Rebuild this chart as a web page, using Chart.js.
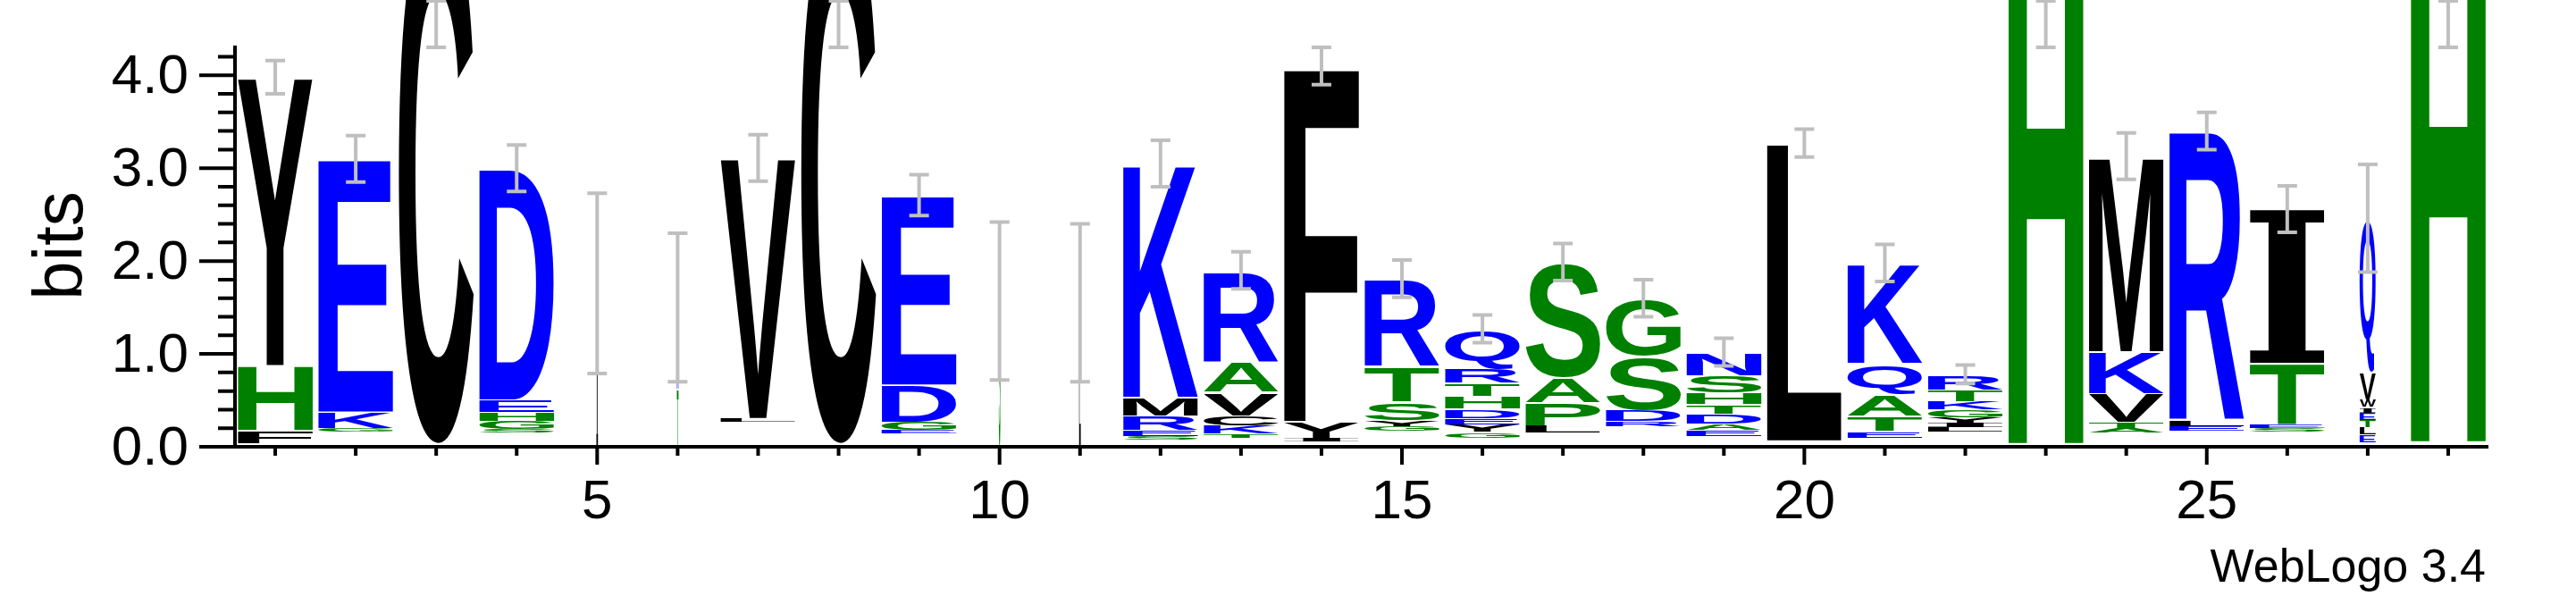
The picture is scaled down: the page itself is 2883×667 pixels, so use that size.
<!DOCTYPE html>
<html><head><meta charset="utf-8">
<script src="https://cdn.jsdelivr.net/npm/chart.js@4.4.0/dist/chart.umd.min.js"></script>
<style>html,body{margin:0;padding:0;background:#fff}#c{display:block}</style>
</head><body>
<canvas id="c" width="2883" height="667"></canvas>
<script>
const positions = [1,2,3,4,5,6,7,8,9,10,11,12,13,14,15,16,17,18,19,20,21,22,23,24,25,26,27,28];
const letters = [
 [' ','F','H','Y'], [' ','G','K','E'], [' ','C'], [' ','S','G','H','E','D'], ['I'], ['T','N'],
 [' ','L','V'], [' ','C'], [' ','E','G','D','E'], ['S'], ['L'],
 [' ','S','E','R','M','K'], [' ','T','K','C','V','A','R'], [' ','I','Y','F'],
 [' ','G','Y','S','T','R'], [' ','G','Y','E','D','H','T','R','Q'], [' ','L','P','A','S'],
 [' ','R','D','S','G'], [' ','E','A','D','T','H','S','N'], [' ','L'],
 [' ','E','T','A','Q','K'], [' ','L','I','Y','G','K','T','R'], [' ','H'],
 [' ','A','T','V','K','M'], [' ','E','L','R'], [' ','S','E','T','I'],
 [' ','E','L','T','E','I','W','V','Q'], [' ','H']
];
const heights = [
 [0.04,0.14,0.7,3.1], [0.16,0.04,0.18,2.72], [0.04,5.8], [0.15,0.04,0.09,0.1,0.13,2.49], [1.76], [0.63,0.87],
 [0.27,0.04,2.8], [0.04,5.8], [0.14,0.04,0.09,0.4,2.04], [1.57], [1.55],
 [0.08,0.04,0.06,0.16,0.2,2.51], [0.1,0.04,0.09,0.11,0.25,0.33,0.98], [0.06,0.04,0.18,3.82],
 [0.17,0.05,0.07,0.2,0.38,0.94], [0.1,0.06,0.08,0.07,0.1,0.14,0.14,0.16,0.42], [0.15,0.08,0.25,0.27,1.24],
 [0.22,0.06,0.12,0.58,0.62], [0.12,0.06,0.07,0.11,0.1,0.12,0.19,0.25], [0.07,3.2],
 [0.1,0.07,0.17,0.23,0.33,1.08], [0.16,0.05,0.05,0.06,0.08,0.09,0.12,0.17], [0.04,5.7],
 [0.15,0.05,0.07,0.31,0.45,2.1], [0.17,0.05,0.06,3.12], [0.16,0.04,0.04,0.66,1.66],
 [0.05,0.08,0.08,0.08,0.08,0.06,0.08,0.3,1.65], [0.06,5.7]
];
const columnWidths = [0.93,0.93,0.93,0.93,0.02,0.02,0.93,0.93,0.93,0.02,0.02,0.93,0.93,0.93,0.93,0.93,0.93,0.93,0.93,0.93,0.93,0.93,0.93,0.93,0.93,0.93,0.2,0.93];
const errHalf = [0.18,0.25,0.25,0.25,0.97,0.8,0.25,0.25,0.22,0.85,0.85,0.25,0.2,0.2,0.2,0.15,0.2,0.2,0.15,0.15,0.2,0.1,0.25,0.25,0.2,0.25,0.58,0.25];
const yTickLabels = ['0.0','1.0','2.0','3.0','4.0'];
const xTickLabels = ['5','10','15','20','25'];

const green = ['A','G','H','P','S','T'], blue = ['D','E','K','N','Q','R'];
function colorOf(l){ return green.includes(l) ? '#008000' : blue.includes(l) ? '#0000ff' : '#000000'; }
const tops = heights.map(h => h.reduce((a,b)=>a+b,0));
const errCenter = tops.map(t => Math.min(t, 4.55));

const logoPlugin = {
  id:'logo',
  afterDatasetsDraw(chart){
    const ctx = chart.ctx, xs = chart.scales.x, ys = chart.scales.y;
    ctx.save();
    positions.forEach((p,i)=>{
      const w = columnWidths[i];
      const x0 = xs.getPixelForValue(p - w/2), x1 = xs.getPixelForValue(p + w/2);
      let base = 0;
      letters[i].forEach((l,j)=>{
        const h = heights[i][j];
        const yb = ys.getPixelForValue(base), yt = ys.getPixelForValue(base+h);
        base += h;
        if (l === ' ') return;
        const bw = Math.max(x1-x0,1), bh = (yb-yt) - Math.min(2,(yb-yt)*0.1);
        if (bh <= 0.3) return;
        const F = (l === 'I') ? 'bold 200px "DejaVu Serif"' : 'bold 200px "Liberation Sans"';
        ctx.font = F;
        const m = ctx.measureText(l);
        const gw = m.actualBoundingBoxLeft + m.actualBoundingBoxRight;
        const gh = m.actualBoundingBoxAscent + m.actualBoundingBoxDescent;
        ctx.save();
        ctx.translate(x0, yb);
        ctx.scale(bw/gw, bh/gh);
        ctx.fillStyle = colorOf(l);
        ctx.textBaseline = 'alphabetic';
        ctx.fillText(l, m.actualBoundingBoxLeft, -m.actualBoundingBoxDescent);
        ctx.restore();
      });
      const xc = xs.getPixelForValue(p);
      const ya = ys.getPixelForValue(errCenter[i]+errHalf[i]), yb2 = ys.getPixelForValue(errCenter[i]-errHalf[i]);
      ctx.strokeStyle = '#bfbfbf'; ctx.lineWidth = 4;
      ctx.beginPath();
      ctx.moveTo(xc, ya); ctx.lineTo(xc, yb2);
      ctx.moveTo(xc-11, ya); ctx.lineTo(xc+11, ya);
      ctx.moveTo(xc-11, yb2); ctx.lineTo(xc+11, yb2);
      ctx.stroke();
    });
    const ca = chart.chartArea;
    ctx.strokeStyle = '#000'; ctx.lineWidth = 4;
    ctx.beginPath();
    ctx.moveTo(ca.left, ca.top); ctx.lineTo(ca.left, ca.bottom);
    ctx.moveTo(ca.left-40, ca.bottom); ctx.lineTo(ca.right, ca.bottom);
    for (let k=0;k<=21;k++){
      const y = ys.getPixelForValue(k*0.2);
      const len = (k%5===0) ? 40 : 19;
      ctx.moveTo(ca.left-len, y); ctx.lineTo(ca.left, y);
    }
    positions.forEach(p=>{
      const x = xs.getPixelForValue(p);
      const len = (p%5===0) ? 20 : 10;
      ctx.moveTo(x, ca.bottom); ctx.lineTo(x, ca.bottom+len);
    });
    ctx.stroke();
    ctx.fillStyle = '#000';
    ctx.font = '62px "Liberation Sans"'; ctx.textAlign='right'; ctx.textBaseline='middle';
    yTickLabels.forEach(t => ctx.fillText(t, 211, ys.getPixelForValue(+t) + 3));
    ctx.save();
    ctx.translate(70, 275); ctx.rotate(-Math.PI/2);
    ctx.font = '78px "Liberation Sans"'; ctx.textAlign='center'; ctx.textBaseline='middle';
    ctx.fillText('bits', 0, 0);
    ctx.restore();
    ctx.font = '52px "Liberation Sans"'; ctx.textAlign='right'; ctx.textBaseline='alphabetic';
    ctx.fillText('WebLogo 3.4', 2782, 651);
    ctx.restore();
  }
};

new Chart(document.getElementById('c'), {
  type:'scatter',
  data:{ datasets:[{ data: positions.map((p,i)=>({x:p,y:tops[i]})), pointRadius:0, showLine:false }] },
  options:{
    responsive:false, animation:false, devicePixelRatio:1,
    layout:{ padding:{ left:0, right:98, top:51, bottom:0 } },
    plugins:{ legend:{display:false}, tooltip:{enabled:false} },
    scales:{
      x:{ type:'linear', min:0.5, max:28.5,
        afterBuildTicks(s){ s.ticks = xTickLabels.map(t=>({value:+t})); },
        afterFit(s){ s.height = 167; },
        ticks:{ font:{size:62, family:'Liberation Sans'}, color:'#000', padding:26, maxRotation:0, autoSkip:false,
          callback:(v)=>xTickLabels.includes(String(v))?String(v):'' },
        grid:{ display:false, drawTicks:false }, border:{display:false} },
      y:{ min:0, max:4.32,
        afterBuildTicks(s){ s.ticks = yTickLabels.map(t=>({value:+t})); },
        afterFit(s){ s.width = 263; },
        ticks:{ display:false },
        grid:{ display:false, drawTicks:false }, border:{display:false} }
    }
  },
  plugins:[logoPlugin]
});
</script>
</body></html>
